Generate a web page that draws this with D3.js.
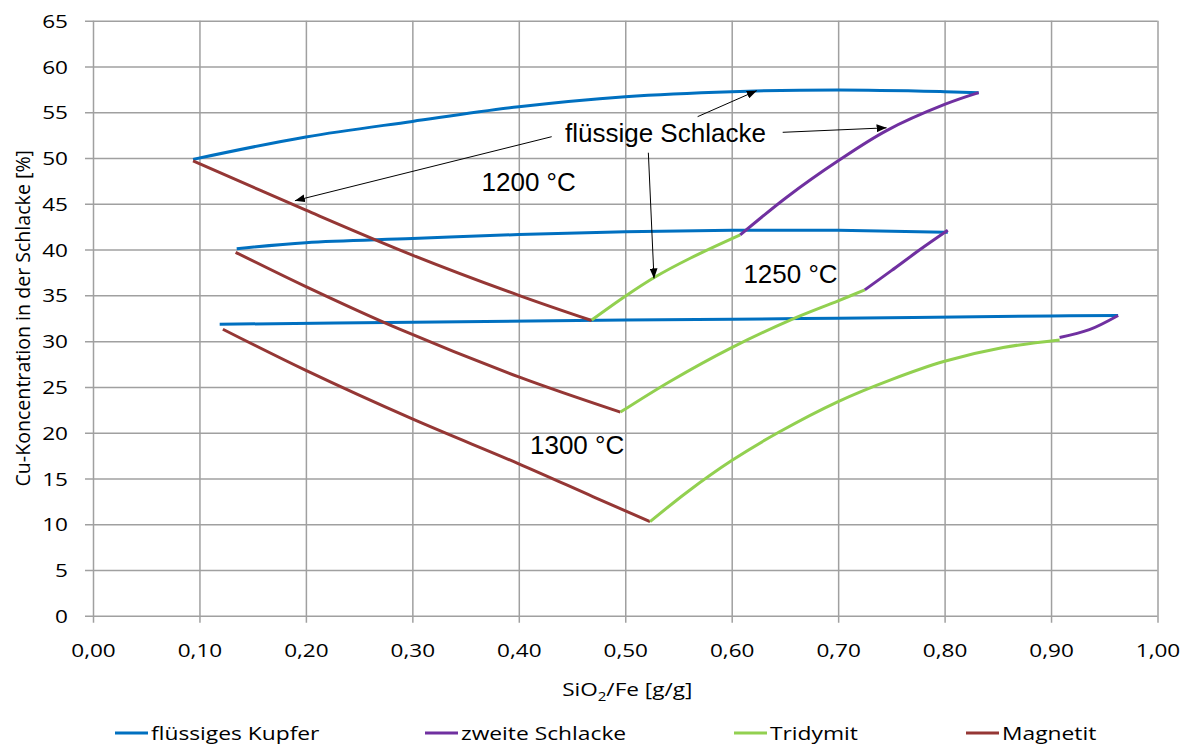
<!DOCTYPE html>
<html>
<head>
<meta charset="utf-8">
<script src="https://cdn.jsdelivr.net/npm/d3@7"></script>
<style>
  body { margin: 0; background: #fff; }
  svg text { fill: #000; }
</style>
</head>
<body>
<svg id="chart" width="1188" height="745"></svg>
<script>
// ---- data ----
const xTicks = [0, 0.1, 0.2, 0.3, 0.4, 0.5, 0.6, 0.7, 0.8, 0.9, 1.0];
const yTicks = [0, 5, 10, 15, 20, 25, 30, 35, 40, 45, 50, 55, 60, 65];

const seriesNames = ["flüssiges Kupfer", "zweite Schlacke", "Tridymit", "Magnetit"];

// 1200 °C
const kupfer1200 = [[0.094, 49.85], [0.2, 52.3], [0.3, 54.0], [0.4, 55.6], [0.5, 56.7], [0.6, 57.25], [0.7, 57.43], [0.8, 57.25], [0.832, 57.14]];
const schlacke1200 = [[0.608, 41.6], [0.652, 45.75], [0.7, 49.7], [0.7455, 53.0], [0.8, 55.85], [0.832, 57.14]];
const tridymit1200 = [[0.4685, 32.3], [0.5, 34.9], [0.528, 37.0], [0.561, 39.05], [0.608, 41.6]];
const magnetit1200 = [[0.094, 49.7], [0.2, 44.3], [0.3, 39.4], [0.4, 35.0], [0.4685, 32.25]];

// 1250 °C
const kupfer1250 = [[0.135, 40.1], [0.2, 40.75], [0.3, 41.2], [0.4, 41.65], [0.5, 41.95], [0.6, 42.1], [0.7, 42.1], [0.8, 41.9], [0.803, 41.9]];
const schlacke1250 = [[0.725, 35.6], [0.75, 37.7], [0.777, 40.0], [0.803, 42.1]];
const tridymit1250 = [[0.4955, 22.25], [0.542, 25.6], [0.6, 29.3], [0.655, 32.3], [0.7, 34.4], [0.725, 35.6]];
const magnetit1250 = [[0.134, 39.7], [0.2, 35.95], [0.288, 31.3], [0.4, 26.1], [0.4955, 22.25]];

// 1300 °C
const kupfer1300 = [[0.119, 31.85], [0.3, 32.05], [0.5, 32.3], [0.7, 32.5], [0.9, 32.75], [0.963, 32.8]];
const schlacke1300 = [[0.908, 30.4], [0.936, 31.25], [0.963, 32.8]];
const tridymit1300 = [[0.5233, 10.28], [0.558, 13.5], [0.6, 16.95], [0.645, 20.1], [0.7, 23.4], [0.75, 25.8], [0.8, 27.8], [0.855, 29.3], [0.908, 30.13]];
const magnetit1300 = [[0.122, 31.3], [0.2, 26.8], [0.3, 21.5], [0.4, 16.6], [0.47, 13.0], [0.5233, 10.28]];

// annotation texts and arrows, in data units
const tempLabels = [
  { text: "1200 °C", x: 0.365, y: 46.43 },
  { text: "1250 °C", x: 0.611, y: 36.32 },
  { text: "1300 °C", x: 0.4105, y: 17.67 }
];
const calloutText = { text: "flüssige Schlacke", x: 0.4434, y: 51.79 };
const arrows = [
  { from: [0.4309, 52.33], to: [0.1897, 45.34] },
  { from: [0.568, 54.52], to: [0.6235, 57.36] },
  { from: [0.6479, 52.81], to: [0.7455, 53.3] },
  { from: [0.5217, 50.58], to: [0.527, 36.85] }
];

// ---- setup ----
const W = 1188, H = 745;
const margin = { top: 20.7, right: 30.5, bottom: 129.2, left: 93 };
const innerW = W - margin.left - margin.right;
const innerH = H - margin.top - margin.bottom;

const colors = ["#0070C0", "#7030A0", "#92D050", "#953735"];
const axisFont = "'Open Sans', Lato, sans-serif";
const noteFont = "'Liberation Sans', Arial, sans-serif";
const sx = 1.2; // the original chart text is stretched sideways

const series = [
  { c: 0, d: kupfer1200 }, { c: 0, d: kupfer1250 }, { c: 0, d: kupfer1300 },
  { c: 3, d: magnetit1200 }, { c: 3, d: magnetit1250 }, { c: 3, d: magnetit1300 },
  { c: 2, d: tridymit1200 }, { c: 2, d: tridymit1250 }, { c: 2, d: tridymit1300 },
  { c: 1, d: schlacke1200 }, { c: 1, d: schlacke1250 }, { c: 1, d: schlacke1300 }
];

const svg = d3.select("#chart");
const g = svg.append("g").attr("transform", `translate(${margin.left},${margin.top})`);

const x = d3.scaleLinear().domain([0, 1]).range([0, innerW]);
const y = d3.scaleLinear().domain([0, 65]).range([innerH, 0]);

// ---- grid + axes ----
const gridColor = "#a0a0a0";

const yAxis = d3.axisLeft(y).tickValues(yTicks).tickSize(-innerW).tickFormat(d3.format("d"));
const yg = g.append("g").call(yAxis);
yg.select(".domain").remove();
yg.selectAll(".tick line").attr("x1", -8).attr("stroke", gridColor).attr("stroke-width", 1.5);
yg.selectAll(".tick text")
  .attr("font-family", axisFont).attr("font-size", 18.8).attr("fill", "#000")
  .attr("x", null).attr("dy", "0.35em")
  .attr("transform", `translate(-25,0) scale(${sx},1)`);

const xAxis = d3.axisBottom(x).tickValues(xTicks).tickSize(-innerH).tickFormat(d => d.toFixed(2).replace(".", ","));
const xg = g.append("g").attr("transform", `translate(0,${innerH})`).call(xAxis);
xg.select(".domain").remove();
xg.selectAll(".tick line").attr("y1", 7).attr("stroke", gridColor).attr("stroke-width", 1.5);
xg.selectAll(".tick text")
  .attr("font-family", axisFont).attr("font-size", 18.8).attr("fill", "#000")
  .attr("y", null).attr("dy", null)
  .attr("transform", `translate(0,41) scale(${sx},1)`);

// axis titles
const xt = svg.append("text")
  .attr("transform", `translate(${margin.left + innerW / 2 + 2},696) scale(${sx},1)`)
  .attr("text-anchor", "middle").attr("font-family", axisFont).attr("font-size", 18.8);
xt.append("tspan").text("SiO");
xt.append("tspan").attr("font-size", 12.5).attr("dy", 5).text("2");
xt.append("tspan").attr("dy", -5).text("/Fe [g/g]");

svg.append("text")
  .attr("transform", `translate(30,${margin.top + innerH / 2}) rotate(-90)`)
  .attr("text-anchor", "middle").attr("font-family", axisFont).attr("font-size", 19.6)
  .text("Cu-Koncentration in der Schlacke [%]");

// ---- lines ----
const line = d3.line().x(d => x(d[0])).y(d => y(d[1])).curve(d3.curveCatmullRom.alpha(0.5));

g.append("g").selectAll("path").data(series).join("path")
  .attr("d", s => line(s.d))
  .attr("fill", "none")
  .attr("stroke", s => colors[s.c])
  .attr("stroke-width", 3)
  .attr("stroke-linecap", "butt");

// ---- annotations ----
svg.append("defs").append("marker")
  .attr("id", "arrow").attr("viewBox", "0 0 10 8")
  .attr("refX", 10).attr("refY", 4)
  .attr("markerWidth", 10).attr("markerHeight", 8)
  .attr("markerUnits", "userSpaceOnUse").attr("orient", "auto")
  .append("path").attr("d", "M0,0 L10,4 L0,8 Z").attr("fill", "#000");

g.append("g").selectAll("line").data(arrows).join("line")
  .attr("x1", a => x(a.from[0])).attr("y1", a => y(a.from[1]))
  .attr("x2", a => x(a.to[0])).attr("y2", a => y(a.to[1]))
  .attr("stroke", "#000").attr("stroke-width", 1)
  .attr("marker-end", "url(#arrow)");

g.append("g").selectAll("text").data(tempLabels.concat([calloutText])).join("text")
  .attr("x", d => x(d.x)).attr("y", d => y(d.y))
  .attr("font-family", noteFont).attr("font-size", 26)
  .text(d => d.text);

// ---- legend ----
const legendX = [115, 425, 734, 966];
const lg = svg.append("g").attr("transform", "translate(0,733)");
const items = lg.selectAll("g").data(seriesNames).join("g")
  .attr("transform", (d, i) => `translate(${legendX[i]},0)`);
items.append("line").attr("x1", 0).attr("x2", 33).attr("y1", 0).attr("y2", 0)
  .attr("stroke", (d, i) => colors[i]).attr("stroke-width", 3);
items.append("text")
  .attr("transform", `translate(36,7) scale(${sx},1)`)
  .attr("font-family", axisFont).attr("font-size", 19).text(d => d);
</script>
</body>
</html>
